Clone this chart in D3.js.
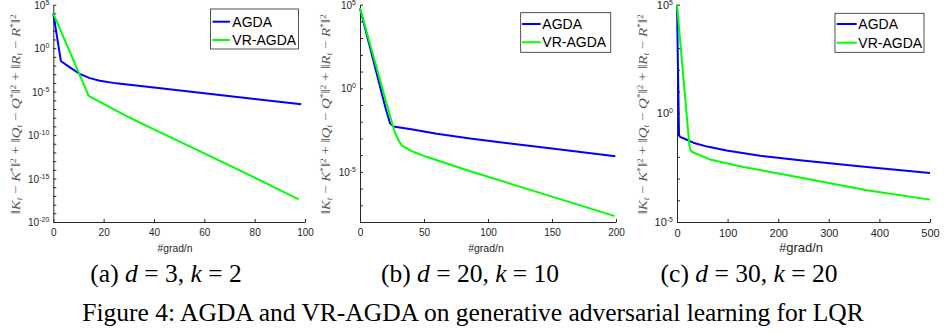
<!DOCTYPE html>
<html><head><meta charset="utf-8">
<script src="https://cdn.jsdelivr.net/npm/d3@7"></script>
<style>
html,body{margin:0;padding:0;background:#fff;}
svg{display:block;}
</style></head>
<body>
<script>
// ---- data (y values stored as log10 of the error) ----
const xTicksA = [0, 20, 40, 60, 80, 100];
const xTicksB = [0, 50, 100, 150, 200];
const xTicksC = [0, 100, 200, 300, 400, 500];
const yLabelExpA = [5, 0, -5, -10, -15, -20];
const yLabelExpB = [5, 0, -5];
const yLabelExpC = [5, 0, -5];

const seriesNames = ["AGDA", "VR-AGDA"];

const agdaA_x = [0, 3, 6, 10.5, 14.5, 18.5, 25, 40, 60, 80, 98.5];
const agdaA_log = [4.0, -1.47, -2.1, -2.95, -3.45, -3.75, -4.05, -4.53, -5.18, -5.84, -6.45];
const vrA_x = [0, 14, 16, 20, 30, 40, 60, 80, 97.5];
const vrA_log = [4.0, -5.45, -5.8, -6.4, -7.95, -9.35, -12.1, -14.9, -17.4];

const agdaB_x = [0, 10, 20, 23.5, 26, 40, 60, 86, 100, 150, 199.5];
const agdaB_log = [4.78, 1.8, -1.2, -2.1, -2.28, -2.45, -2.72, -3.0, -3.14, -3.6, -4.06];
const vrB_x = [0, 20, 27, 30, 33, 40, 52, 86, 150, 199];
const vrB_log = [4.8, -0.7, -2.6, -3.1, -3.45, -3.75, -4.1, -4.96, -6.48, -7.65];

const agdaC_x = [0, 4, 6, 15, 32, 60, 98, 164, 243, 375, 500];
const agdaC_log = [5.0, -1.0, -1.08, -1.17, -1.35, -1.53, -1.71, -1.95, -2.16, -2.47, -2.74];
const vrC_x = [0, 24.5, 27, 30, 65, 131, 243, 375, 500];
const vrC_log = [5.0, -1.5, -1.7, -1.78, -2.12, -2.47, -2.95, -3.54, -3.97];

const captions = ["(a) ", "(b) ", "(c) "];
const captionD = ["3", "20", "30"];
const captionK = ["2", "10", "20"];
const figCaption = "Figure 4: AGDA and VR-AGDA on generative adversarial learning for LQR";

// ---- layout ----
const W = 946, H = 331;
const svg = d3.select("body").append("svg").attr("width", W).attr("height", H);
const AX = "#262626";
const COLORS = ["#0000ff", "#00ff00"];
const SANS = "Liberation Sans, Arial, sans-serif";
const SERIF = "Liberation Serif, Times New Roman, serif";

const panels = [
  {x0: 53.3, x1: 305, xDom: [0, 100], xTicks: xTicksA, yExpDom: [-20, 5], yLab: yLabelExpA,
   series: [[agdaA_x, agdaA_log], [vrA_x, vrA_log]], leg: {x: 210.5, y: 9, w: 88, h: 40, lx0: 212.5, lx1: 230, tx: 232.3, r1: 21.7, r2: 40},
   ylx: 15, xlx: 175, xlfs: 10.3},
  {x0: 360, x1: 616, xDom: [0, 200], xTicks: xTicksB, yExpDom: [-8, 5], yLab: yLabelExpB,
   series: [[agdaB_x, agdaB_log], [vrB_x, vrB_log]], leg: {x: 520.7, y: 12.7, w: 90, h: 39.6, lx0: 522, lx1: 540.7, tx: 542.3, r1: 24, r2: 42.3},
   ylx: 325, xlx: 486, xlfs: 10.5},
  {x0: 677, x1: 930, xDom: [0, 500], xTicks: xTicksC, yExpDom: [-5, 5], yLab: yLabelExpC,
   series: [[agdaC_x, agdaC_log], [vrC_x, vrC_log]], leg: {x: 835, y: 13.3, w: 89, h: 39, lx0: 836.7, lx1: 856.7, tx: 858.3, r1: 24, r2: 42.7},
   ylx: 642, xlx: 801, xlfs: 13}
];
const TOP = 4.7, BOT = 222;

panels.forEach((p, pi) => {
  const x = d3.scaleLinear().domain(p.xDom).range([p.x0, p.x1]);
  const y = d3.scaleLog().domain([10 ** p.yExpDom[0], 10 ** p.yExpDom[1]]).range([BOT, TOP]);
  const g = svg.append("g");
  const tfs = pi === 2 ? 11 : 10;

  // x axis (ticks inward)
  const xa = g.append("g").attr("transform", `translate(0,${BOT})`)
    .call(d3.axisBottom(x).tickValues(p.xTicks).tickSizeInner(-3).tickSizeOuter(0).tickPadding(7));
  xa.select(".domain").attr("stroke", AX);
  xa.selectAll("line").attr("stroke", AX);
  xa.selectAll("text").attr("fill", AX).attr("font-family", SANS).attr("font-size", tfs);

  // y axis: decade ticks, labels every 5 decades
  const decades = d3.range(p.yExpDom[0], p.yExpDom[1] + 1).map(e => 10 ** e);
  const ya = g.append("g").attr("transform", `translate(${p.x0},0)`)
    .call(d3.axisLeft(y).tickValues(decades).tickFormat("").tickSizeInner(-3).tickSizeOuter(0));
  ya.select(".domain").attr("stroke", AX);
  ya.selectAll("line").attr("stroke", AX);
  p.yLab.forEach(e => {
    const t = g.append("text").attr("x", p.x0 - 4).attr("y", y(10 ** e) + 4)
      .attr("text-anchor", "end").attr("fill", AX)
      .attr("font-family", SANS).attr("font-size", tfs);
    t.append("tspan").text("10");
    t.append("tspan").attr("dy", -4).attr("font-size", 7).text(String(e));
  });

  // series
  const line = d3.line().x(d => x(d[0])).y(d => y(10 ** d[1]));
  p.series.forEach((s, si) => {
    const pts = s[0].map((xv, i) => [xv, s[1][i]]);
    g.append("path").datum(pts).attr("d", line).attr("fill", "none")
      .attr("stroke", COLORS[si]).attr("stroke-width", 2).attr("stroke-linejoin", "round");
  });

  // legend
  const L = p.leg;
  g.append("rect").attr("x", L.x).attr("y", L.y).attr("width", L.w).attr("height", L.h)
    .attr("fill", "#fff").attr("stroke", AX).attr("stroke-width", 0.8);
  [L.r1, L.r2].forEach((ry, i) => {
    g.append("line").attr("x1", L.lx0).attr("x2", L.lx1).attr("y1", ry).attr("y2", ry)
      .attr("stroke", COLORS[i]).attr("stroke-width", 2);
    g.append("text").attr("x", L.tx).attr("y", ry + 5).attr("fill", "#000")
      .attr("font-family", SANS).attr("font-size", 14).text(seriesNames[i]);
  });

  // x label
  g.append("text").attr("x", p.xlx).attr("y", 251.5).attr("text-anchor", "middle").attr("fill", AX)
    .attr("font-family", SANS).attr("font-size", p.xlfs).text("#grad/n");

  // y label
  const cy = (TOP + BOT) / 2 + 1;
  const yl = g.append("text").attr("transform", `translate(${p.ylx + 4.5},${cy}) rotate(-90)`)
    .attr("text-anchor", "middle").attr("fill", "#555")
    .attr("font-family", SERIF).attr("font-size", 12.5);
  const parts = [["‖", "n"], ["K", "i"], ["t", "sub"], [" − ", "n"], ["K", "i"], ["*", "sup"], ["‖", "n"], ["2", "sup"], [" + ‖", "n"],
    ["Q", "i"], ["t", "sub"], [" − ", "n"], ["Q", "i"], ["*", "sup"], ["‖", "n"], ["2", "sup"], [" + ‖", "n"],
    ["R", "i"], ["t", "sub"], [" − ", "n"], ["R", "i"], ["*", "sup"], ["‖", "n"], ["2", "sup"]];
  parts.forEach(([s, k]) => {
    const ts = yl.append("tspan").text(s);
    if (k === "i") ts.attr("font-style", "italic");
    if (k === "sub") ts.attr("font-style", "italic").attr("font-size", 8).attr("baseline-shift", "-25%");
    if (k === "sup") ts.attr("font-size", 8).attr("baseline-shift", "45%");
  });
  yl.attr("textLength", 200).attr("lengthAdjust", "spacingAndGlyphs");

  // sub caption
  const ccx = [166, 470, 749][pi];
  const ct = svg.append("text").attr("x", ccx).attr("y", 282).attr("text-anchor", "middle")
    .attr("font-family", SERIF).attr("font-size", 25.5).attr("fill", "#000");
  ct.append("tspan").text(captions[pi]);
  ct.append("tspan").attr("font-style", "italic").text("d");
  ct.append("tspan").text(" = " + captionD[pi] + ", ");
  ct.append("tspan").attr("font-style", "italic").text("k");
  ct.append("tspan").text(" = " + captionK[pi]);
});

svg.append("text").attr("x", 473).attr("y", 321).attr("text-anchor", "middle")
  .attr("font-family", SERIF).attr("font-size", 25.5).attr("fill", "#000")
  .text(figCaption);
</script>
</body></html>
